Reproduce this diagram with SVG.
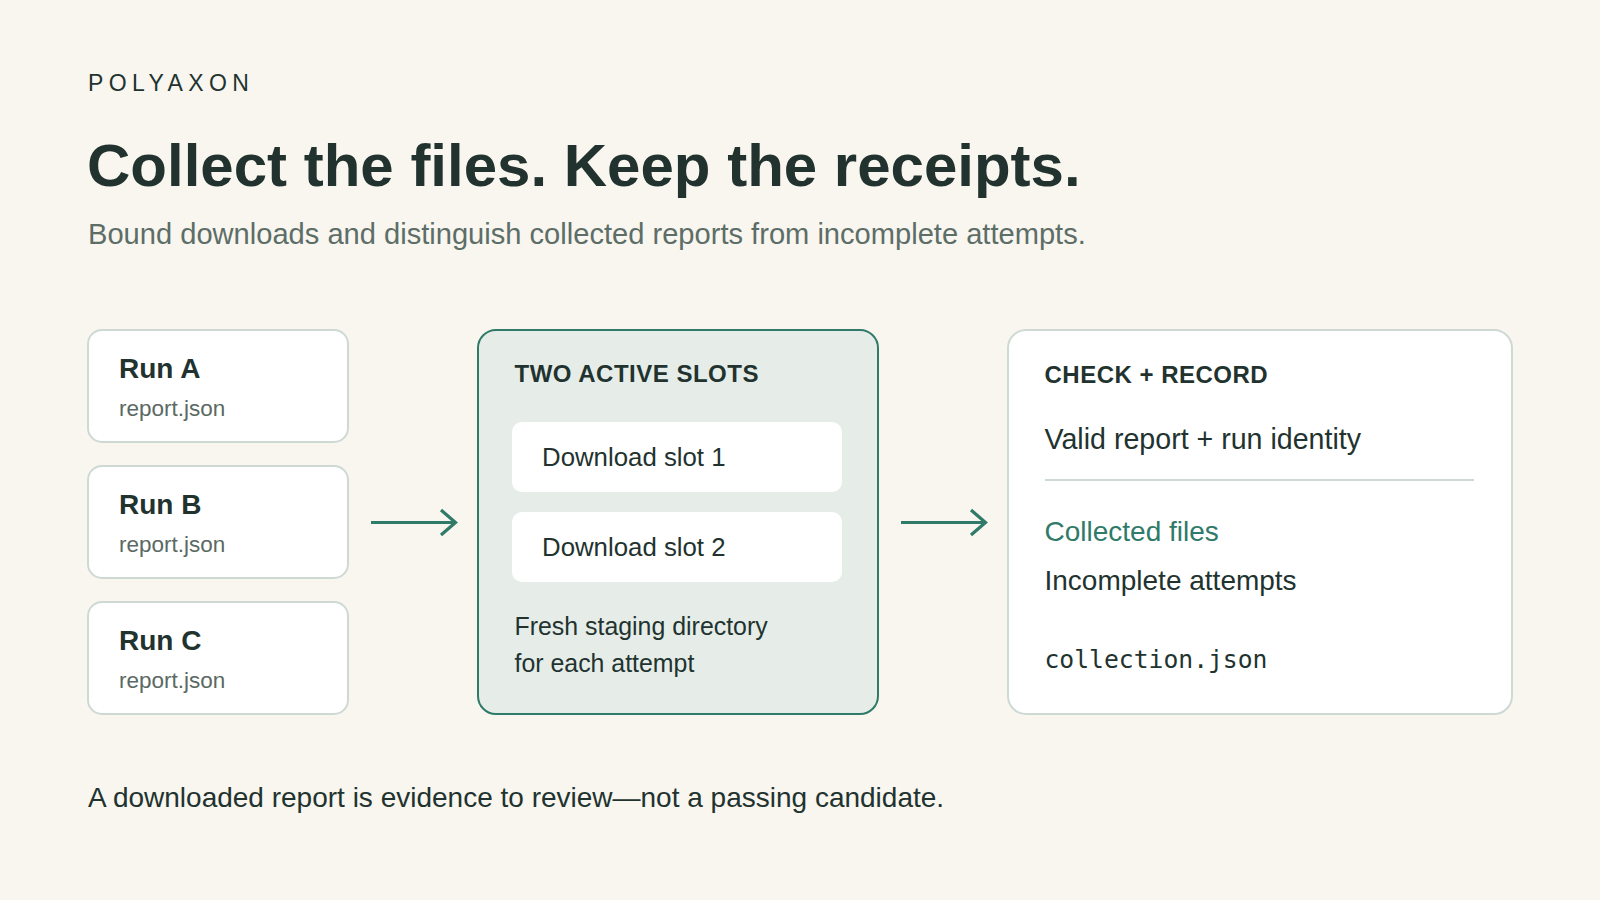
<svg xmlns="http://www.w3.org/2000/svg" width="1600" height="900" viewBox="0 0 1600 900">
  <defs>
    <style>
      .sans { font-family: "Liberation Sans", Arial, sans-serif; }
      .mono { font-family: "DejaVu Sans Mono", "Liberation Mono", monospace; }
      .dark { fill: #22332f; }
      .card { fill: #ffffff; stroke: #cfd9d4; stroke-width: 2; }
      .runTitle { font-size: 28px; font-weight: bold; fill: #22332f; }
      .runFile { font-size: 22.5px; fill: #5b6964; }
      .head { font-size: 24px; font-weight: bold; letter-spacing: 0.5px; fill: #22332f; }
      .body { font-size: 28px; fill: #22332f; }
      .slotText { font-size: 25.8px; fill: #22332f; }
      .note { font-size: 24.9px; fill: #22332f; }
      .conn { stroke: #2f7a68; stroke-width: 3.2; fill: none; stroke-linecap: butt; stroke-linejoin: miter; }
    </style>
  </defs>
  <rect x="0" y="0" width="1600" height="900" fill="#f8f6ef"/>

  <g id="header">
    <text x="88" y="91" class="sans dark" font-size="23" letter-spacing="5.4">POLYAXON</text>
    <text x="87" y="186" class="sans dark" font-size="60" font-weight="bold">Collect the files. Keep the receipts.</text>
    <text x="88" y="243.5" class="sans" font-size="29.1" fill="#5d6d67">Bound downloads and distinguish collected reports from incomplete attempts.</text>
  </g>

  <g id="run-a">
    <rect class="card" x="88" y="330" width="260" height="112" rx="14"/>
    <text x="119" y="377.5" class="sans runTitle">Run A</text>
    <text x="119" y="416" class="sans runFile">report.json</text>
  </g>
  <g id="run-b">
    <rect class="card" x="88" y="466" width="260" height="112" rx="14"/>
    <text x="119" y="513.5" class="sans runTitle">Run B</text>
    <text x="119" y="552" class="sans runFile">report.json</text>
  </g>
  <g id="run-c">
    <rect class="card" x="88" y="602" width="260" height="112" rx="14"/>
    <text x="119" y="649.5" class="sans runTitle">Run C</text>
    <text x="119" y="688" class="sans runFile">report.json</text>
  </g>

  <g id="slots">
    <rect x="478" y="330" width="400" height="384" rx="18" fill="#e6ede9" stroke="#2f7a68" stroke-width="2"/>
    <text x="514.5" y="381.5" class="sans head">TWO ACTIVE SLOTS</text>
    <rect x="512" y="422" width="330" height="70" rx="10" fill="#ffffff"/>
    <text x="542" y="465.5" class="sans slotText">Download slot 1</text>
    <rect x="512" y="512" width="330" height="70" rx="10" fill="#ffffff"/>
    <text x="542" y="555.5" class="sans slotText">Download slot 2</text>
    <text x="514.5" y="635" class="sans note">Fresh staging directory</text>
    <text x="514.5" y="671.5" class="sans note">for each attempt</text>
  </g>

  <g id="check-record">
    <rect class="card" x="1008" y="330" width="504" height="384" rx="18"/>
    <text x="1044.5" y="382.5" class="sans head">CHECK + RECORD</text>
    <text x="1044.5" y="448.5" class="sans" font-size="28.6" fill="#22332f">Valid report + run identity</text>
    <line x1="1045" y1="480" x2="1474" y2="480" stroke="#cfd9d4" stroke-width="2"/>
    <text x="1044.5" y="540.5" class="sans body" style="fill:#2f7a68">Collected files</text>
    <text x="1044.5" y="589.5" class="sans body">Incomplete attempts</text>
    <text x="1044.5" y="667.5" class="mono" font-size="24.7" fill="#22332f">collection.json</text>
  </g>

  <g id="connectors">
    <line class="conn" x1="371" y1="522.5" x2="455" y2="522.5"/>
    <polyline class="conn" points="441,510 455.5,522.5 441,535"/>
    <line class="conn" x1="901" y1="522.5" x2="985" y2="522.5"/>
    <polyline class="conn" points="971,510 985.5,522.5 971,535"/>
  </g>

  <g id="footer">
    <text x="88" y="806.5" class="sans dark" font-size="28">A downloaded report is evidence to review—not a passing candidate.</text>
  </g>
</svg>
